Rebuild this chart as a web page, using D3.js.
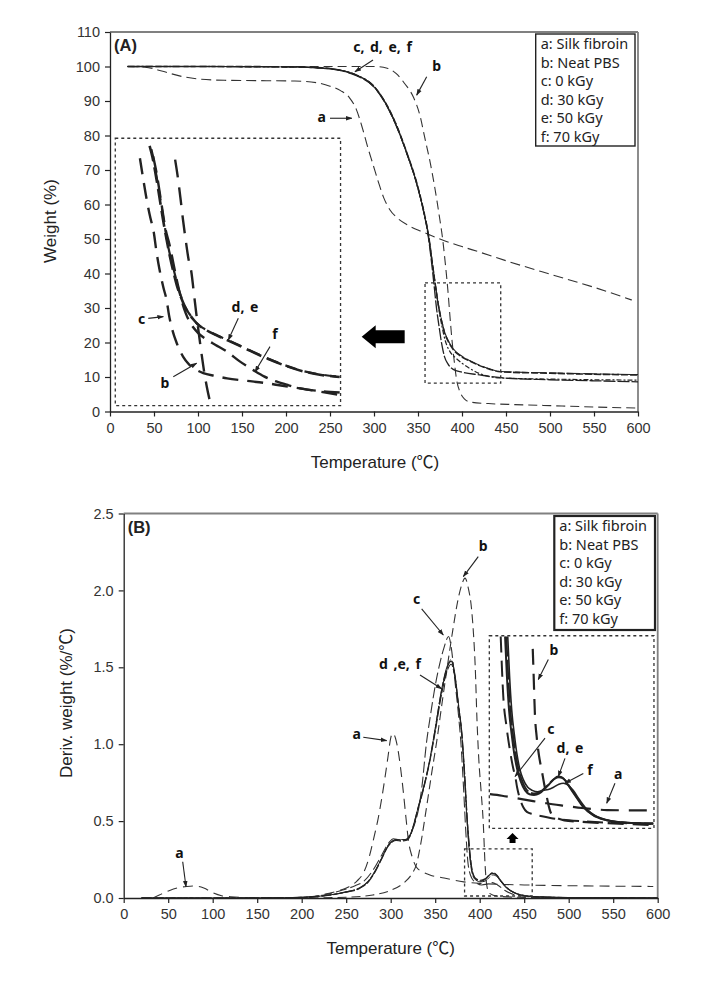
<!DOCTYPE html>
<html><head><meta charset="utf-8">
<script src="https://cdn.jsdelivr.net/npm/d3@7"></script>
<style>
body{margin:0;background:#fff;}
svg{display:block;}
</style></head><body>
<svg id="chart" width="719" height="987"></svg>
<script>
// ---------- tick values / labels ----------
const xTicks = d3.range(0, 601, 50);
const yTicksA = d3.range(0, 111, 10);
const yTicksB = [0, 0.5, 1.0, 1.5, 2.0, 2.5];
const legendItems = ["a: Silk fibroin", "b: Neat PBS", "c: 0 kGy", "d: 30 kGy", "e: 50 kGy", "f: 70 kGy"];
const xLabel = "Temperature (\u2103)";
const yLabelA = "Weight (%)";
const yLabelB = "Deriv. weight (%/\u2103)";

// ---------- (A) TGA curves: [temperature, weight %] ----------
const tgaA = [[20,100],[40,99.8],[60,98.6],[80,97.2],[100,96.4],[130,96],[170,95.9],[210,95.8],[235,95.3],[250,94.3],[262,93],[272,91],[280,87.5],[287,82],[293,76.5],[299,71.5],[305,66.5],[311,62],[318,58.5],[326,56.2],[340,53.8],[356,52],[380,49.5],[400,47.8],[420,46.2],[450,43.7],[500,39.8],[550,36],[593,32.3]];
const tgaB = [[20,100],[100,100],[200,100],[280,100],[300,100],[315,99.5],[325,98],[335,95],[345,91],[352,86],[358,79],[364,72],[369,65],[374,57],[378,50],[381,43],[384,35],[386.5,27],[388.5,21],[391,15],[394,9],[398,5.5],[403,3.6],[410,2.7],[430,2.3],[460,2.0],[500,1.7],[550,1.3],[600,1]];
const tgaC = [[20,100],[100,100],[200,99.9],[240,99.6],[260,99],[280,97.5],[300,94.2],[311,90.3],[326,82.5],[337,75],[348.5,66],[356,58.4],[361.7,50.7],[365.5,43],[368.5,36],[371,30],[374,24.5],[377,19.5],[380,16],[384,13.8],[390,12.2],[400,11.4],[420,10.6],[444,9.8],[500,9.2],[550,8.9],[600,8.6]];
const tgaD = [[20,100],[100,100],[200,99.9],[240,99.6],[260,99],[280,97.5],[300,94.2],[311,90.4],[326,82.7],[337,75.2],[348.5,66.3],[356,58.7],[362,51],[366,43.5],[369.5,37],[373,31],[376.5,26.5],[380,23],[384,20.5],[390,18],[400,15.8],[410,14.5],[420,13.3],[432,12.2],[444,11.5],[500,11.1],[550,10.8],[600,10.6]];
const tgaE = [[20,100],[100,100],[200,99.9],[240,99.5],[260,98.9],[280,97.3],[300,94],[311,90.1],[326,82.3],[337,75],[348.5,66.1],[356,58.5],[362,50.8],[366,43.4],[369.5,37.2],[373,31.3],[376.5,26.8],[380,23.3],[384,20.7],[390,18.2],[400,16],[410,14.6],[420,13.4],[432,12.3],[444,11.6],[500,11.2],[550,10.9],[600,10.7]];
const tgaF = [[20,100],[100,100],[200,99.9],[240,99.6],[260,99],[280,97.5],[300,94.2],[311,90.3],[326,82.6],[337,75.1],[348.5,66.2],[356,58.5],[362,51],[366,43.5],[369.5,37],[373,31],[377,25],[381,20.5],[386,17.5],[393,15.5],[400,14],[410,12.3],[420,11],[430,10.2],[444,9.7],[500,9.4],[550,9.2],[600,9.1]];

// (A) inset (magnified view) drawn on the panel axes
const insetTgaB = [[74,73],[77,68],[80,62],[83,55.5],[86,49.7],[89,44.5],[92.7,40],[95,35],[98,28.5],[101,22.5],[104,16.8],[107,11.5],[110,7.2],[113.6,2.9]];
const insetTgaC = [[34,73.4],[38,67],[42,61],[46,56],[49.3,52.6],[53,46],[56,41.5],[60.6,36],[64.4,32.2],[67,28],[71,23.5],[76,19.7],[83,15.9],[90,13.6],[96,12.4],[106,11.1],[120,10.3],[133,9.6],[155,8.9],[178,8.2],[200,7.3],[216,6.7],[240,5.7],[261,4.8]];
const insetTgaD = [[45,77],[48,74],[51,70],[55,64],[60,56],[64.4,49.7],[68,45],[72,40.5],[76,36.5],[80,33.5],[85,30.5],[90,28.3],[95,26.6],[100,25.2],[110,23.5],[120,22.2],[133,20.7],[145,19.3],[160,17.5],[180,15.2],[200,13.2],[220,11.6],[240,10.6],[261,10]];
const insetTgaE = [[47,76],[50,72.5],[53,68],[57,62],[62,54],[66,48],[70,43.5],[74,39.5],[78,35.5],[82,32.5],[86,30],[91,28],[96,26.3],[101,25],[110,23.6],[120,22.3],[133,20.8],[145,19.4],[160,17.6],[180,15.3],[200,13.3],[220,11.7],[240,10.7],[261,10.1]];
const insetTgaF = [[49,74],[53,69],[58,61],[63,53],[68,48],[72,43],[76,38],[81.4,32.2],[86,28.5],[91,25.8],[100,22.8],[110,20.8],[120,19.3],[132.6,17.4],[147,14.6],[162.9,12],[175,10.2],[189,8.7],[203,7.6],[216,6.7],[240,5.9],[261,5.5]];

// ---------- (B) DTG curves: [temperature, %/°C] ----------
const dtgA = [[33,0],[40,0.02],[50,0.045],[60,0.065],[71,0.075],[80,0.078],[90,0.065],[100,0.035],[110,0.015],[120,0.008],[140,0.003],[180,0.002],[210,0.005],[222,0.02],[240,0.045],[252,0.07],[262,0.11],[270,0.17],[276,0.27],[281,0.39],[286,0.52],[290,0.65],[294,0.8],[297,0.92],[300,1.04],[302,1.07],[304,1.06],[307,1.0],[311,0.85],[314,0.7],[317,0.53],[320,0.37],[324,0.27],[329,0.2],[336,0.17],[344,0.15],[360,0.13],[382,0.105],[400,0.095],[450,0.085],[500,0.08],[550,0.077],[595,0.075]];
const dtgB = [[20,0],[200,0],[250,0.005],[280,0.02],[300,0.05],[315,0.1],[323,0.15],[329,0.22],[334,0.36],[340,0.58],[346,0.81],[352,1.03],[358,1.28],[364,1.52],[370,1.75],[376,1.95],[380,2.04],[383.5,2.08],[387,2.02],[391,1.87],[393,1.72],[395,1.5],[397,1.15],[399,0.9],[401.5,0.7],[404,0.49],[406,0.22],[408,0.08],[411,0.03],[420,0.012],[450,0.004],[600,0]];
const dtgC = [[20,0],[150,0],[200,0.005],[225,0.02],[245,0.05],[260,0.08],[270,0.11],[280,0.18],[290,0.28],[298,0.36],[303,0.385],[310,0.38],[317,0.38],[322,0.42],[328,0.5],[332,0.6],[335,0.72],[340,1.0],[345,1.2],[350,1.38],[355,1.52],[360,1.63],[365,1.7],[368,1.63],[372,1.42],[376,1.2],[379,1.0],[382,0.7],[384.5,0.42],[387,0.22],[391,0.13],[396,0.1],[402,0.085],[408,0.09],[414,0.1],[420,0.085],[428,0.05],[440,0.02],[460,0.008],[500,0.003],[600,0]];
const dtgD = [[20,0],[150,0],[200,0.004],[225,0.015],[250,0.04],[265,0.065],[275,0.11],[282,0.17],[290,0.26],[297,0.34],[302,0.37],[306,0.38],[312,0.375],[318,0.38],[322,0.41],[326,0.48],[330,0.57],[337,0.72],[344,0.9],[350,1.1],[357,1.34],[363,1.49],[368,1.54],[372,1.45],[376,1.25],[380,1.06],[383,0.8],[386,0.5],[389,0.28],[392,0.16],[396,0.12],[401,0.11],[406,0.12],[411,0.15],[415,0.165],[419,0.15],[424,0.11],[430,0.07],[437,0.04],[447,0.02],[465,0.008],[500,0.003],[600,0]];
const dtgE = [[20,0],[150,0],[200,0.004],[225,0.014],[250,0.038],[265,0.062],[275,0.105],[282,0.165],[290,0.255],[297,0.335],[302,0.365],[306,0.375],[312,0.37],[318,0.375],[322,0.405],[326,0.47],[330,0.56],[337,0.71],[344,0.89],[350,1.08],[357,1.32],[363,1.47],[368,1.52],[372,1.44],[376,1.26],[380,1.07],[383,0.82],[386,0.52],[389,0.3],[392,0.17],[396,0.125],[401,0.115],[406,0.125],[411,0.15],[415,0.16],[419,0.148],[424,0.11],[430,0.07],[437,0.04],[447,0.02],[465,0.008],[500,0.003],[600,0]];
const dtgF = [[20,0],[150,0],[200,0.004],[225,0.015],[250,0.04],[265,0.066],[275,0.11],[282,0.17],[290,0.26],[297,0.34],[302,0.37],[306,0.38],[312,0.378],[318,0.382],[322,0.41],[326,0.48],[330,0.57],[337,0.72],[344,0.9],[350,1.1],[357,1.35],[363,1.5],[368,1.55],[372,1.46],[376,1.27],[380,1.05],[383,0.78],[386,0.48],[389,0.26],[392,0.15],[396,0.115],[401,0.105],[406,0.11],[411,0.135],[415,0.15],[419,0.14],[424,0.105],[430,0.065],[437,0.038],[447,0.018],[465,0.007],[500,0.003],[600,0]];

// (B) inset (magnified view) drawn on the panel axes
const insetDtgA = [[411.5,0.675],[425,0.665],[440,0.65],[460,0.63],[475,0.616],[495,0.6],[515,0.585],[543,0.572],[570,0.57],[594,0.57]];
const insetDtgB = [[459.6,1.62],[460.6,1.45],[462,1.2],[464,1.05],[466.5,0.93],[469.7,0.83],[472.5,0.74],[475.3,0.66],[477.5,0.6],[479.5,0.56],[483,0.53],[486.5,0.52],[495,0.505],[512.7,0.496],[550,0.485],[595,0.475]];
const insetDtgC = [[423.6,1.70],[426.5,1.31],[430,1.12],[434,0.96],[437.8,0.84],[440,0.79],[442,0.72],[445,0.65],[449,0.59],[453,0.56],[460,0.545],[471.5,0.53],[485,0.515],[500,0.505],[520,0.497],[545,0.49],[570,0.485],[595,0.48]];
const insetDtgD = [[428.5,1.70],[430.5,1.45],[433,1.22],[436,1.06],[439,0.93],[442,0.84],[446,0.76],[451,0.7],[456,0.675],[461,0.67],[467,0.68],[473,0.71],[478,0.74],[483,0.77],[488,0.79],[492,0.785],[496,0.765],[501,0.72],[508,0.66],[516,0.594],[527,0.54],[542,0.507],[565,0.49],[595,0.486]];
const insetDtgE = [[430,1.70],[432,1.45],[434.5,1.22],[437.5,1.06],[440.5,0.93],[443.5,0.84],[447.5,0.765],[452,0.71],[457,0.685],[462,0.68],[468,0.69],[474,0.72],[479,0.75],[484,0.775],[489,0.785],[493,0.78],[497,0.76],[502,0.715],[509,0.655],[517,0.59],[528,0.537],[543,0.505],[566,0.49],[595,0.484]];
const insetDtgF = [[431.5,1.70],[433.5,1.45],[436,1.22],[439,1.06],[442,0.93],[445,0.84],[449,0.77],[454,0.72],[459,0.7],[465,0.69],[471,0.7],[477,0.705],[483,0.72],[489,0.74],[494,0.746],[499,0.735],[505,0.7],[512,0.64],[520,0.58],[530,0.535],[545,0.505],[567,0.488],[595,0.482]];

// zoom boxes [x0, x1, y0, y1] in data units
const zoomBoxA = [358, 444, 8.2, 37.3];
const insetBoxA = [6, 262, 1.7, 79.2];
const zoomBoxB = [383, 459, 0.013, 0.32];
const insetBoxB = [410.8, 595.8, 0.453, 1.705];

// annotations: [text, tx, ty, ax1, ay1, ax2, ay2]
const notesA = [
  ["c, d, e, f", 309.7, 104.2, 298.9, 101.9, 278.4, 98.5],
  ["b", 371.2, 98.7, 359.9, 97, 348.5, 91.7],
  ["a", 240.6, 83.9, 250, 85, 274.7, 85],
  ["c", 36, 25.4, 43.5, 27, 60.6, 27.5],
  ["d, e", 153.4, 28.8, 145.8, 27, 134.4, 20.7],
  ["f", 187.5, 21, 181.8, 18.8, 164.8, 11.5],
  ["b", 62.5, 6.8, 71.9, 10.1, 98.5, 14]
];
const notesB = [
  ["b", 404, 2.256, 398.4, 2.22, 381.6, 2.09],
  ["c", 329.2, 1.91, 334.8, 1.88, 359.1, 1.71],
  ["d ,e, f", 310.4, 1.49, 332.9, 1.45, 357.3, 1.36],
  ["a", 261.8, 1.034, 269.2, 1.045, 295.5, 1.023],
  ["a", 62.5, 0.26, 66.3, 0.236, 70, 0.073],
  ["b", 483.5, 1.58, 477.1, 1.55, 465.8, 1.42],
  ["c", 480.1, 1.066, 473.4, 1.04, 439.7, 0.79],
  ["d, e", 501.5, 0.943, 495.8, 0.908, 488.3, 0.789],
  ["f", 523.9, 0.80, 516.4, 0.81, 495.8, 0.746],
  ["a", 555.7, 0.774, 552, 0.746, 542.7, 0.616]
];

// ---------- drawing ----------
const svg = d3.select("#chart");
const defs = svg.append("defs");
defs.append("marker").attr("id", "ah").attr("viewBox", "0 0 10 10")
  .attr("refX", 9).attr("refY", 5).attr("markerWidth", 6).attr("markerHeight", 6)
  .attr("orient", "auto").append("path").attr("d", "M0,1.5 L10,5 L0,8.5 Z").attr("fill", "#222");

const FONT = "'Liberation Sans', Arial, 'Noto Sans CJK SC', sans-serif";
const LFONT = "'Noto Sans', 'Open Sans', sans-serif";
const INK = "#222";

function panel(cfg) {
  const x = d3.scaleLinear().domain([0, 600]).range(cfg.xr);
  const y = d3.scaleLinear().domain(cfg.yd).range(cfg.yr);
  const g = svg.append("g");
  const clipId = "clip" + cfg.id;
  defs.append("clipPath").attr("id", clipId).append("rect")
    .attr("x", cfg.xr[0]).attr("y", cfg.yr[1]).attr("width", cfg.xr[1] - cfg.xr[0]).attr("height", cfg.yr[0] - cfg.yr[1]);

  // frame (top / right grey)
  g.append("line").attr("x1", cfg.xr[0]).attr("x2", cfg.xr[1]).attr("y1", cfg.yr[1]).attr("y2", cfg.yr[1]).attr("stroke", "#808080").attr("stroke-width", 1.8);
  g.append("line").attr("x1", cfg.xr[1]).attr("x2", cfg.xr[1]).attr("y1", cfg.yr[1]).attr("y2", cfg.yr[0]).attr("stroke", "#808080").attr("stroke-width", 1.8);

  const ax = g.append("g").attr("transform", `translate(0,${cfg.yr[0]})`)
    .call(d3.axisBottom(x).tickValues(xTicks).tickSize(5).tickSizeOuter(0).tickPadding(6).tickFormat(d3.format("d")));
  const ay = g.append("g").attr("transform", `translate(${cfg.xr[0]},0)`)
    .call(d3.axisLeft(y).tickValues(cfg.yt).tickSize(5).tickSizeOuter(0).tickPadding(5).tickFormat(cfg.fmt));
  [ax, ay].forEach(a => {
    a.select(".domain").attr("stroke", INK).attr("stroke-width", 1.3);
    a.selectAll(".tick line").attr("stroke", INK).attr("stroke-width", 1.2);
    a.selectAll(".tick text").attr("font-family", FONT).attr("font-size", 14.5).attr("fill", "#333");
  });

  g.append("text").attr("x", (cfg.xr[0] + cfg.xr[1]) / 2 + cfg.xlOff).attr("y", cfg.yr[0] + 56)
    .attr("text-anchor", "middle").attr("font-family", FONT).attr("font-size", 17).attr("fill", "#222").text(xLabel);
  g.append("text").attr("transform", `translate(${cfg.ylX},${cfg.ylY}) rotate(-90)`)
    .attr("text-anchor", "middle").attr("font-family", FONT).attr("font-size", 17).attr("fill", "#222").text(cfg.ylabel);

  g.append("text").attr("x", cfg.xr[0] + 4).attr("y", cfg.yr[1] + 19).attr("font-family", FONT)
    .attr("font-weight", "bold").attr("font-size", 16.5).attr("fill", "#222").text(cfg.tag);

  // legend
  const lg = g.append("g");
  lg.append("rect").attr("x", cfg.leg[0]).attr("y", cfg.leg[1]).attr("width", cfg.leg[2]).attr("height", cfg.leg[3])
    .attr("fill", "#fff").attr("stroke", "#222").attr("stroke-width", cfg.legW);
  legendItems.forEach((t, i) => {
    lg.append("text").attr("x", cfg.leg[0] + 5).attr("y", cfg.leg[1] + 15 + i * 18.6)
      .attr("font-family", LFONT).attr("font-size", 14.5).attr("fill", "#222").text(t);
  });

  return {x, y, g, clipId};
}

function drawLine(P, data, dash, w, color) {
  const line = d3.line().x(d => P.x(d[0])).y(d => P.y(d[1])).curve(d3.curveMonotoneX);
  P.g.append("path").datum(data).attr("d", line).attr("fill", "none")
    .attr("stroke", color || INK).attr("stroke-width", w).attr("stroke-dasharray", dash)
    .attr("clip-path", `url(#${P.clipId})`);
}
function dotBox(P, b) {
  P.g.append("rect").attr("x", P.x(b[0])).attr("y", P.y(b[3]))
    .attr("width", P.x(b[1]) - P.x(b[0])).attr("height", P.y(b[2]) - P.y(b[3]))
    .attr("fill", "none").attr("stroke", "#333").attr("stroke-width", 1.3).attr("stroke-dasharray", "3,3");
}
function notes(P, list) {
  list.forEach(n => {
    P.g.append("text").attr("x", P.x(n[1])).attr("y", P.y(n[2])).attr("text-anchor", "middle")
      .attr("font-family", LFONT).attr("font-weight", "bold").attr("font-size", 14).attr("fill", "#111")
      .attr("word-spacing", 2).text(n[0]);
    P.g.append("line").attr("x1", P.x(n[3])).attr("y1", P.y(n[4])).attr("x2", P.x(n[5])).attr("y2", P.y(n[6]))
      .attr("stroke", "#222").attr("stroke-width", 1.1).attr("marker-end", "url(#ah)");
  });
}

// ---------- Panel A ----------
const A = panel({id: "A", xr: [110, 638], yr: [411.5, 32], yd: [0, 110], yt: yTicksA, fmt: d3.format("d"),
  ylabel: yLabelA, ylX: 56, ylY: 221, xlOff: 1, tag: "(A)", leg: [535.7, 34, 99.3, 112], legW: 1.4});

drawLine(A, tgaA, "10,5", 1.1, "#333");
drawLine(A, tgaB, "9,5", 1.1, "#333");
drawLine(A, tgaC, "12,2", 1.3);
drawLine(A, tgaD, "7,2", 1.6);
drawLine(A, tgaE, "14,3", 1.1);
drawLine(A, tgaF, "5,2,2,2", 1.2);
dotBox(A, zoomBoxA);
dotBox(A, insetBoxA);
drawLine(A, insetTgaC, "16,9", 2.4);
drawLine(A, insetTgaB, "18,10", 2.4);
drawLine(A, insetTgaD, "16,6", 2.6);
drawLine(A, insetTgaE, "12,8", 2.2);
drawLine(A, insetTgaF, "17,8", 2.4);
notes(A, notesA);
{ // big left arrow
  const tx = A.x(286), cy = A.y(21.7);
  A.g.append("path").attr("d", `M${tx},${cy} L${tx + 14},${cy - 11.5} L${tx + 14},${cy - 6.5} L${tx + 43},${cy - 6.5} L${tx + 43},${cy + 6.5} L${tx + 14},${cy + 6.5} L${tx + 14},${cy + 11.5} Z`).attr("fill", "#000");
}

// ---------- Panel B ----------
const B = panel({id: "B", xr: [123.7, 657.7], yr: [898, 513.5], yd: [0, 2.5], yt: yTicksB, fmt: d3.format(".1f"),
  ylabel: yLabelB, ylX: 72, ylY: 703, xlOff: 0, tag: "(B)", leg: [554.3, 516, 100.7, 114], legW: 2.2});

drawLine(B, dtgA, "10,6", 1.1, "#333");
drawLine(B, dtgB, "9,5", 1.1, "#333");
drawLine(B, dtgC, "11,4", 1.1, "#333");
drawLine(B, dtgD, "16,2", 1.2);
drawLine(B, dtgE, "10,2", 1.1);
drawLine(B, dtgF, "22,2", 1.0);
dotBox(B, zoomBoxB);
dotBox(B, insetBoxB);
drawLine(B, insetDtgA, "18,10", 2.2);
drawLine(B, insetDtgB, "16,9", 2.2);
drawLine(B, insetDtgC, "16,8", 2.0);
drawLine(B, insetDtgD, null, 2.0);
drawLine(B, insetDtgE, "20,3", 1.8);
drawLine(B, insetDtgF, null, 1.6);
notes(B, notesB);
{ // small up arrow
  const tx = B.x(436.9), ty = B.y(0.423);
  B.g.append("path").attr("d", `M${tx},${ty} L${tx + 6},${ty + 6} L${tx + 3},${ty + 6} L${tx + 3},${ty + 10} L${tx - 3},${ty + 10} L${tx - 3},${ty + 6} L${tx - 6},${ty + 6} Z`).attr("fill", "#000");
}
</script></body></html>
